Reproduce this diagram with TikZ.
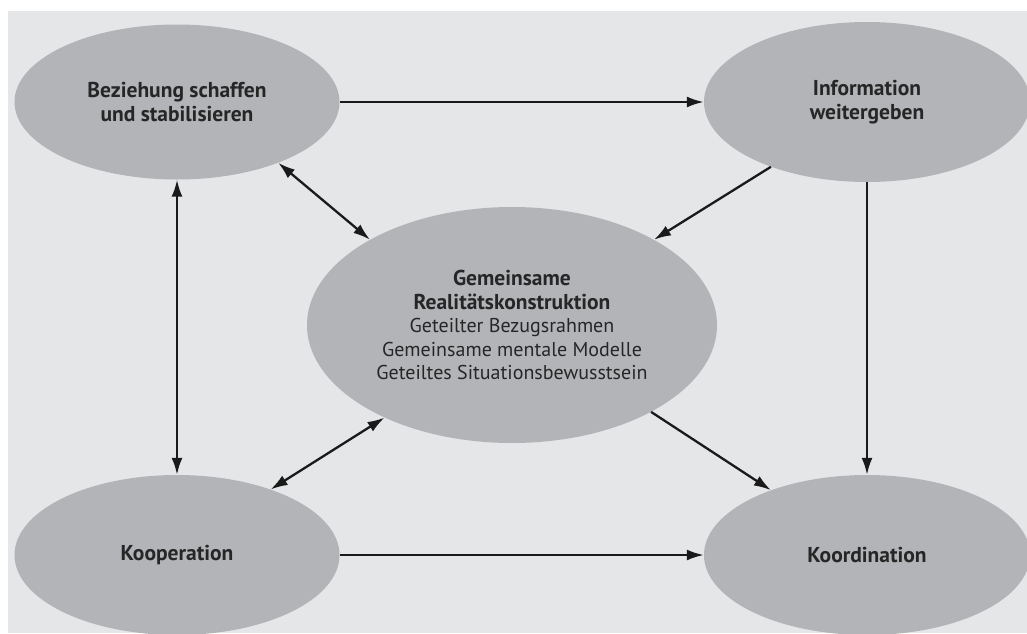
\documentclass[tikz,border=0pt]{standalone}
\usepackage{fontspec}
\setmainfont{PT Sans}
\usetikzlibrary{arrows.meta,shapes.geometric}
\definecolor{panel}{HTML}{E5E6E7}
\definecolor{blob}{HTML}{B2B4B7}
\definecolor{ink}{HTML}{262626}
\definecolor{arrowink}{HTML}{1A1A1A}
\begin{document}
\begin{tikzpicture}[x=1pt,y=-1pt,
  blobnode/.style={ellipse, fill=blob, inner sep=0pt, text=ink, align=center,
    font=\fontsize{21.5}{23.5}\selectfont\bfseries},
  plain/.style={font=\fontsize{20}{23.5}\selectfont\mdseries},
  link/.style={draw=arrowink, line width=2.3pt, -{Latex[length=17pt,width=11pt]}},
  twoway/.style={draw=arrowink, line width=2.3pt, {Latex[length=17pt,width=11pt]}-{Latex[length=17pt,width=11pt]}}]
\useasboundingbox (0,0) rectangle (1027,633);
\fill[panel] (8,11) rectangle (1027,633);

\node[blobnode, minimum width=325pt, minimum height=155pt] (tl) at (177,102)
  {Beziehung schaffen\\und stabilisieren};
\node[blobnode, minimum width=326pt, minimum height=160pt] (tr) at (867,102)
  {Information\\weitergeben};
\node[blobnode, minimum width=410pt, minimum height=236pt] (c) at (512,325)
  {Gemeinsame\\Realitätskonstruktion\\
   \fontsize{20}{23.5}\selectfont\mdseries Geteilter Bezugsrahmen\\
   \fontsize{20}{23.5}\selectfont\mdseries Gemeinsame mentale Modelle\\
   \fontsize{20}{23.5}\selectfont\mdseries Geteiltes Situationsbewusstsein};
\node[blobnode, minimum width=325pt, minimum height=160pt] (bl) at (177,555)
  {Kooperation};
\node[blobnode, minimum width=326pt, minimum height=160pt] (br) at (867,555)
  {Koordination};

\draw[link] (tl.east) -- (tr.west);
\draw[link] (bl.east) -- (br.west);
\draw[link] (tr.south) -- (br.north);
\draw[twoway] (tl.south) -- (bl.north);
\draw[twoway] (tl.-31.5) -- (c.149.9);
\draw[link] (tr.-146.6) -- (c.31.3);
\draw[link] (c.-32.1) -- (br.146.2);
\draw[twoway] (bl.35.6) -- (c.-144.3);
\end{tikzpicture}
\end{document}
